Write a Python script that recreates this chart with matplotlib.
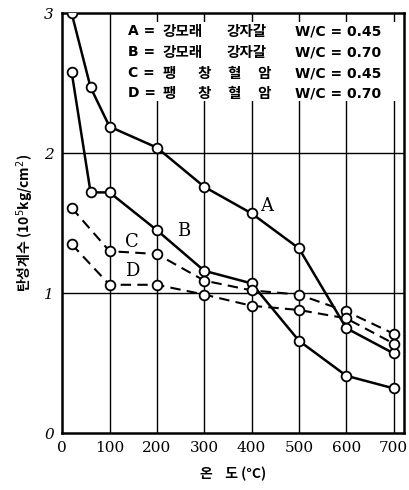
import matplotlib
matplotlib.use("Agg")
import matplotlib.pyplot as plt
from matplotlib.patches import Rectangle

plt.rcParams['font.family'] = ['Noto Sans CJK KR', 'DejaVu Sans']

temps_A = [20, 60, 100, 200, 300, 400, 500, 600, 700]
vals_A = [3.00, 2.47, 2.19, 2.04, 1.76, 1.57, 1.32, 0.75, 0.57]
temps_B = [20, 60, 100, 200, 300, 400, 500, 600, 700]
vals_B = [2.58, 1.72, 1.72, 1.45, 1.16, 1.07, 0.66, 0.41, 0.32]
temps_C = [20, 100, 200, 300, 400, 500, 600, 700]
vals_C = [1.61, 1.30, 1.28, 1.09, 1.02, 0.99, 0.87, 0.71]
temps_D = [20, 100, 200, 300, 400, 500, 600, 700]
vals_D = [1.35, 1.06, 1.06, 0.99, 0.91, 0.88, 0.82, 0.64]

xticks = [0, 100, 200, 300, 400, 500, 600, 700]
yticks = [0, 1, 2, 3]
legend_keys = ["A =", "B =", "C =", "D ="]
legend_mat1 = ["강모래", "강모래", "팽", "팽"]
legend_mat2 = ["강자갈", "강자갈", "창", "창"]
legend_mat3 = ["", "", "혈", "혈"]
legend_mat4 = ["", "", "암", "암"]
legend_wc = ["W/C = 0.45", "W/C = 0.70", "W/C = 0.45", "W/C = 0.70"]

fig = plt.figure(figsize=(4.09, 4.90), dpi=100)
ax = fig.add_axes([0.152, 0.116, 0.836, 0.857])
ax.set_xlim(0, 722)
ax.set_ylim(0, 3)

for g in xticks[1:]:
    ax.axvline(g, color='black', lw=1.0, zorder=1)
for g in [1, 2]:
    ax.axhline(g, color='black', lw=1.0, zorder=1)

# white backing of the legend block
ax.add_patch(Rectangle((132, 2.37), 583, 0.57, facecolor='white', edgecolor='none', zorder=2))

mk = dict(marker='o', markersize=7, markerfacecolor='white', markeredgecolor='black', markeredgewidth=1.3, color='black', zorder=3)
ax.plot(temps_A, vals_A, lw=1.8, ls='-', **mk)
ax.plot(temps_B, vals_B, lw=1.8, ls='-', **mk)
ax.plot(temps_C, vals_C, lw=1.5, ls=(0, (5, 3)), **mk)
ax.plot(temps_D, vals_D, lw=1.5, ls=(0, (5, 3)), **mk)

lab = dict(fontsize=13, family='DejaVu Serif', color='black', zorder=4)
ax.text(418, 1.59, 'A', **lab)
ax.text(242, 1.41, 'B', **lab)
ax.text(132, 1.33, 'C', **lab)
ax.text(132, 1.12, 'D', **lab)

rows_y = [2.87, 2.72, 2.57, 2.43]
lt = dict(fontsize=10.5, fontweight='bold', va='center', ha='left', zorder=5)
ll = dict(fontsize=10, fontweight='bold', va='center', ha='left', zorder=5, family='DejaVu Sans')
for i, yy in enumerate(rows_y):
    ax.text(140, yy, legend_keys[i], **ll)
    if legend_mat3[i]:
        ax.text(212, yy, legend_mat1[i], **lt)
        ax.text(285, yy, legend_mat2[i], **lt)
        ax.text(348, yy, legend_mat3[i], **lt)
        ax.text(412, yy, legend_mat4[i], **lt)
    else:
        ax.text(212, yy, legend_mat1[i], **lt)
        ax.text(348, yy, legend_mat2[i], **lt)
    ax.text(492, yy, legend_wc[i], **ll)

ax.set_xticks(xticks)
ax.set_yticks(yticks)
ax.set_xticklabels([str(t) for t in xticks], family='DejaVu Serif', fontsize=11)
ax.set_yticklabels([str(t) for t in yticks], family='DejaVu Serif', fontsize=11, style='italic')
ax.tick_params(length=0, pad=6)

for s in ax.spines.values():
    s.set_linewidth(1.8)

ax.set_ylabel("탄성계수 (10$^5$kg/cm$^2$)", fontsize=10, fontweight='bold', labelpad=6)
ax.set_xlabel("온    도 (°C)", fontsize=10, fontweight='bold', labelpad=8)

fig.savefig("out.png", dpi=100)
